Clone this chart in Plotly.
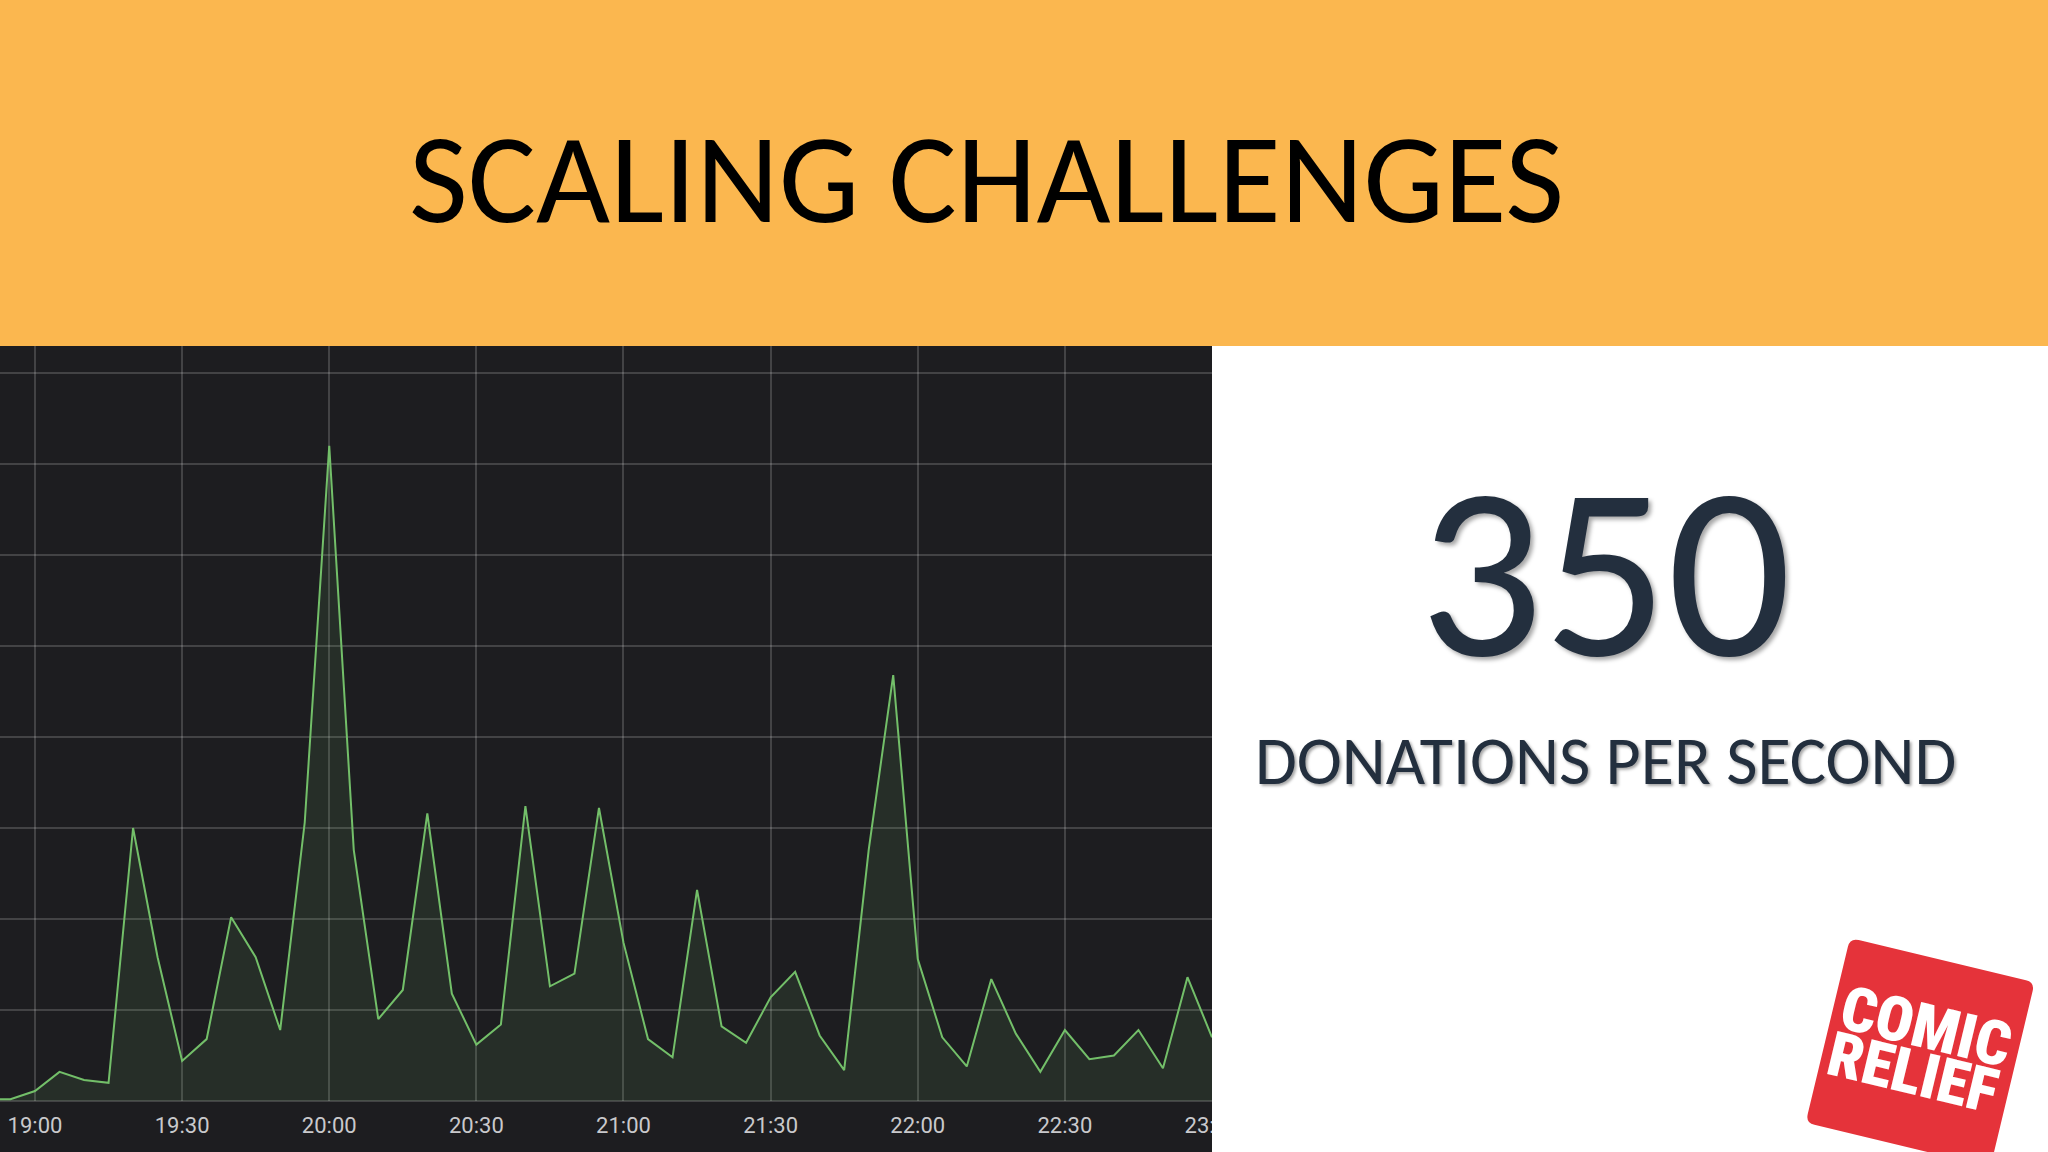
import math
import pandas as pd
import plotly.graph_objects as go

# ---------------- data ----------------
times = ["18:50", "18:55", "19:00", "19:05", "19:10", "19:15", "19:20", "19:25", "19:30", "19:35",
         "19:40", "19:45", "19:50", "19:55", "20:00", "20:05", "20:10", "20:15", "20:20", "20:25",
         "20:30", "20:35", "20:40", "20:45", "20:50", "20:55", "21:00", "21:05", "21:10", "21:15",
         "21:20", "21:25", "21:30", "21:35", "21:40", "21:45", "21:50", "21:55", "22:00", "22:05",
         "22:10", "22:15", "22:20", "22:25", "22:30", "22:35", "22:40", "22:45", "22:50", "22:55",
         "23:00"]
donations = [1, 1, 5.5, 16, 11.5, 10, 150, 79, 22, 34,
             101, 79, 39, 153, 360, 138, 45, 61, 158, 59,
             31, 42, 162, 63, 70, 161, 87, 34, 24, 116,
             41, 32, 57, 71, 36, 17, 138, 234, 78, 35,
             19, 67, 37, 16, 39, 23, 25, 39, 18, 68,
             35]
day = "2019-03-15"
title_text = "SCALING CHALLENGES"
big_number = "350"
subtitle_text = "DONATIONS PER SECOND"
logo_lines = ["COMIC", "RELIEF"]

W, H = 2048, 1152


def fx(px):
    return px / W


def fy(py):
    return 1 - py / H


x_vals = pd.to_datetime([f"{day} {t}" for t in times])

fig = go.Figure()
fig.add_trace(go.Scatter(
    x=x_vals, y=donations, mode="lines",
    line=dict(color="#73BF69", width=2),
    fill="tozeroy", fillcolor="rgba(115,191,105,0.11)",
    hoverinfo="skip", showlegend=False,
))

shapes = []
# orange header band
shapes.append(dict(type="rect", xref="paper", yref="paper", x0=0, x1=1, y0=fy(346), y1=1,
                   fillcolor="#FBB74F", line=dict(width=0), layer="below"))
# dark dashboard panel
shapes.append(dict(type="rect", xref="paper", yref="paper", x0=0, x1=fx(1212), y0=0, y1=fy(346),
                   fillcolor="#1d1d20", line=dict(width=0), layer="below"))
# white cover clipping the last tick label at the panel edge
shapes.append(dict(type="rect", xref="paper", yref="paper", x0=fx(1212), x1=1, y0=0, y1=fy(1103),
                   fillcolor="#ffffff", line=dict(width=0), layer="above"))

# logo: rotated rounded red square
theta = math.radians(13.5)
s = 190.0
r = 9.0
tl = (1850.0, 938.0)
u = (math.cos(theta), math.sin(theta))
v = (-math.sin(theta), math.cos(theta))


def pt(a, b):
    return (tl[0] + u[0] * a + v[0] * b, tl[1] + u[1] * a + v[1] * b)


def P(p):
    return f"{fx(p[0]):.5f},{fy(p[1]):.5f}"


path = (
    f"M {P(pt(r, 0))} L {P(pt(s - r, 0))} Q {P(pt(s, 0))} {P(pt(s, r))} "
    f"L {P(pt(s, s - r))} Q {P(pt(s, s))} {P(pt(s - r, s))} "
    f"L {P(pt(r, s))} Q {P(pt(0, s))} {P(pt(0, s - r))} "
    f"L {P(pt(0, r))} Q {P(pt(0, 0))} {P(pt(r, 0))} Z"
)
shapes.append(dict(type="path", xref="paper", yref="paper", path=path,
                   fillcolor="#E5333A", line=dict(width=0), layer="above"))

annotations = [
    dict(text=title_text, x=fx(986), y=fy(178), xref="paper", yref="paper",
         xanchor="center", yanchor="middle", showarrow=False,
         font=dict(family="Carlito, 'Open Sans', sans-serif", size=128, color="#000000")),
    dict(text=big_number, x=fx(1605), y=fy(571), xref="paper", yref="paper",
         xanchor="center", yanchor="middle", showarrow=False,
         font=dict(family="Carlito, 'Open Sans', sans-serif", size=245, color="#232F3E",
                   shadow="3px 3px 4px rgba(0,0,0,0.35)")),
    dict(text=subtitle_text, x=fx(1605), y=fy(760), xref="paper", yref="paper",
         xanchor="center", yanchor="middle", showarrow=False,
         font=dict(family="Carlito, 'Open Sans', sans-serif", size=68, color="#232F3E",
                   shadow="2px 2px 3px rgba(0,0,0,0.35)")),
]
logo_pos = [(1926, 1026), (1913, 1072)]
for txt, (lx, ly) in zip(logo_lines, logo_pos):
    annotations.append(dict(text=txt, x=fx(lx), y=fy(ly), xref="paper", yref="paper",
                            xanchor="center", yanchor="middle", showarrow=False, textangle=13.5,
                            font=dict(family="'Roboto Condensed', 'Liberation Sans Narrow', "
                                             "'DejaVu Sans Condensed', Roboto, sans-serif",
                                      size=62, weight=900, color="#ffffff")))

fig.update_layout(
    width=W, height=H,
    margin=dict(l=0, r=0, t=0, b=0, pad=0, autoexpand=False),
    paper_bgcolor="#ffffff",
    plot_bgcolor="#232326",
    shapes=shapes,
    annotations=annotations,
    showlegend=False,
    xaxis=dict(
        domain=[0, fx(1212)],
        type="date",
        range=[f"{day} 18:52:52", f"{day} 23:00:00"],
        tick0=f"{day} 19:00",
        dtick=30 * 60 * 1000,
        tickformat="%H:%M",
        showgrid=True, gridcolor="rgba(255,255,255,0.17)", gridwidth=2,
        zeroline=False, showline=False,
        ticks="", ticklabelstandoff=9,
        tickfont=dict(family="Roboto", size=22, color="#c9c9cc"),
        automargin=False,
        fixedrange=True,
    ),
    yaxis=dict(
        domain=[fy(1101), fy(346)],
        range=[0, 414.8],
        dtick=50,
        showticklabels=False,
        showgrid=True, gridcolor="rgba(255,255,255,0.17)", gridwidth=2,
        zeroline=True, zerolinecolor="rgba(255,255,255,0.17)", zerolinewidth=2,
        showline=False, ticks="",
        automargin=False,
        fixedrange=True,
    ),
)

fig.write_html("out.html", config={"displayModeBar": False},
               post_script="document.body.style.margin='0px';document.body.style.overflow='hidden';")
